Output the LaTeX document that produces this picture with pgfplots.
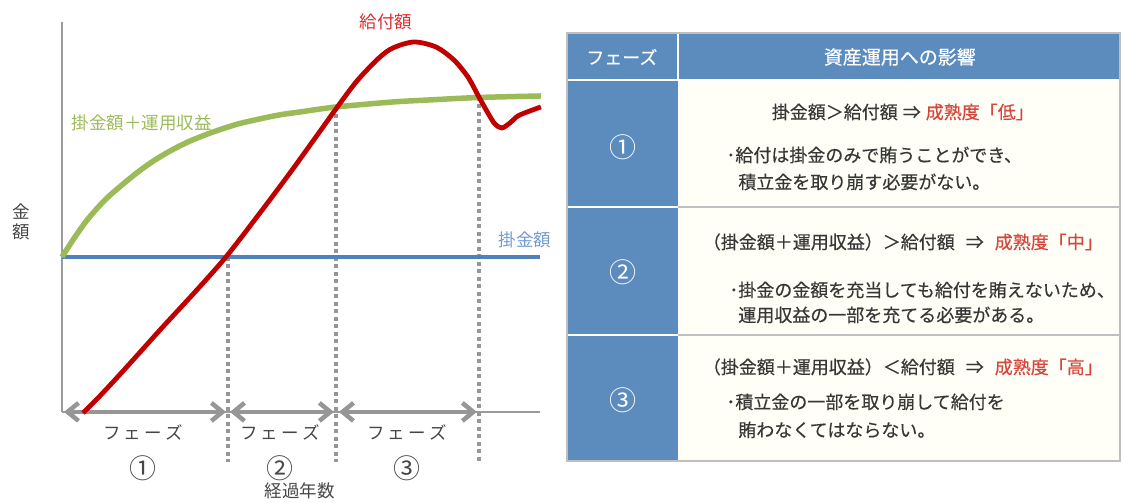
\documentclass[border=0pt]{standalone}
\usepackage{fontspec}
\setmainfont{Noto Sans CJK JP}
\newfontfamily\heavy{Noto Sans CJK JP}[FakeBold=0.35]
\usepackage{pgfplots}
\pgfplotsset{compat=1.18}
\usetikzlibrary{arrows.meta}

\definecolor{benefit}{RGB}{192,0,0}
\definecolor{benefitlbl}{RGB}{220,45,45}
\definecolor{contrib}{RGB}{79,129,189}
\definecolor{contriblbl}{RGB}{110,155,210}
\definecolor{fund}{RGB}{155,187,89}
\definecolor{guide}{RGB}{150,150,150}
\definecolor{axisgray}{RGB}{155,155,155}
\definecolor{ink}{RGB}{55,55,55}
\definecolor{chartink}{RGB}{70,70,70}
\definecolor{hdrblue}{RGB}{92,139,190}
\definecolor{cellbg}{RGB}{255,255,247}
\definecolor{cellline}{RGB}{191,191,191}
\definecolor{accent}{RGB}{212,70,62}

\newcommand\lbl{\fontsize{17.5}{21}\selectfont}
\newcommand\tfont{\heavy\fontsize{18}{22}\selectfont}
\newcommand\cnum{\fontsize{27}{30}\selectfont}
\newcommand\phase{フ\hspace{3.2pt}ェ\hspace{3.2pt}ー\hspace{3.2pt}ズ}
\tikzset{span/.style={guide, line width=4.5pt,
  {Straight Barb[length=11pt,width=18pt]}-{Straight Barb[length=11pt,width=18pt]}}}

\begin{document}
\begin{tikzpicture}
\begin{axis}[
  width=1121pt, height=502pt, scale only axis,
  xmin=0, xmax=1121, ymin=0, ymax=502,
  hide axis, clip=false]
\path (0,0) rectangle (1121,502);

% ---------- chart: axes ----------
\addplot[axisgray, line width=1.5pt] coordinates {(62,480) (62,90)};
\addplot[axisgray, line width=1.5pt] coordinates {(62,90) (540,90)};

% phase boundaries
\addplot[guide, line width=4pt, dash pattern=on 4pt off 3.5pt] coordinates {(228,245) (228,40)};
\addplot[guide, line width=4pt, dash pattern=on 4pt off 3.5pt] coordinates {(336,395) (336,40)};
\addplot[guide, line width=4pt, dash pattern=on 4pt off 3.5pt] coordinates {(479,405) (479,40)};

% phase spans
\draw[span] (64,90) -- (226,90);
\draw[span] (230,90) -- (334,90);
\draw[span] (339,90) -- (477,90);

% contributions (flat)
\addplot[contrib, line width=4.5pt] coordinates {(62,245) (540,245)};

% contributions + investment income
\addplot[fund, line width=5.5pt, smooth] coordinates {
  (62,245) (75,265) (88,283) (105,302) (122,317) (138,330) (155,342)
  (172,352) (188,360) (205,367) (222,373) (238,378) (255,382)
  (279,387) (300,390) (336,395) (393,400) (429,402) (479,404.5) (541,406)};

% benefit payments
\addplot[benefit, line width=4.8pt, smooth] coordinates {
  (83,89) (100,106) (125,133) (161,173) (196,211) (226,245) (260,289)
  (290,329) (321,372) (336,393) (357,421) (379,444) (393,454)
  (414,460) (436,455) (454,442) (468,425) (479,405) (488,389)
  (495,378) (502,374) (510,379) (518,386) (530,391) (541,395)};

% ---------- chart: labels ----------
\node[benefitlbl, font=\lbl] at (386,480) {給付額};
\node[fund, font=\lbl] at (142,379) {掛金額＋運用収益};
\node[contriblbl, font=\lbl] at (525,262) {掛金額};
\node[chartink, font=\lbl] at (21,290) {金};
\node[chartink, font=\lbl] at (21,270) {額};
\node[chartink, font=\lbl] at (143,69) {\phase};
\node[chartink, font=\lbl] at (280,69) {\phase};
\node[chartink, font=\lbl] at (407,69) {\phase};
\node[chartink, font=\cnum] at (143,34) {①};
\node[chartink, font=\cnum] at (280,34) {②};
\node[chartink, font=\cnum] at (407,34) {③};
\node[chartink, font=\lbl] at (300,11) {経過年数};

% ---------- table ----------
\fill[hdrblue] (567,41) rectangle (678,469);
\fill[hdrblue] (678,422) rectangle (1120,469);
\fill[cellbg] (678,41) rectangle (1120,422);
\draw[white, line width=2pt] (567,422) -- (1120,422);
\draw[white, line width=2pt] (678,422) -- (678,469);
\draw[white, line width=2pt] (567,295) -- (678,295);
\draw[white, line width=2pt] (567,167) -- (678,167);
\draw[cellline, line width=2pt] (678,295) -- (1120,295);
\draw[cellline, line width=2pt] (678,167) -- (1120,167);
\draw[cellline, line width=2.5pt] (567,41) rectangle (1120,469);

\node[white, font=\tfont] at (622,445) {フェーズ};
\node[white, font=\heavy\fontsize{19}{22}\selectfont] at (900,445) {資産運用への影響};

\node[white, font=\cnum] at (623,355) {①};
\node[white, font=\cnum] at (623,230) {②};
\node[white, font=\cnum] at (623,102) {③};

\node[ink, font=\tfont] at (903,390) {掛金額＞給付額\hspace{5pt}⇒\hspace{5pt}\textcolor{accent}{成熟度「低」}};
\node[ink, font=\tfont, anchor=west] at (723,347) {･給付は掛金のみで賄うことができ、};
\node[ink, font=\tfont, anchor=west] at (735,320) {積立金を取り崩す必要がない。};

\node[ink, font=\tfont] at (903,260) {（掛金額＋運用収益）＞給付額\hspace{11pt}⇒\hspace{11pt}\textcolor{accent}{成熟度「中」}};
\node[ink, font=\tfont, anchor=west] at (726,212) {･掛金の金額を充当しても給付を賄えないため、};
\node[ink, font=\tfont, anchor=west] at (735,187) {運用収益の一部を充てる必要がある。};

\node[ink, font=\tfont] at (903,135) {（掛金額＋運用収益）＜給付額\hspace{11pt}⇒\hspace{11pt}\textcolor{accent}{成熟度「高」}};
\node[ink, font=\tfont, anchor=west] at (723,100) {･積立金の一部を取り崩して給付を};
\node[ink, font=\tfont, anchor=west] at (735,72) {賄わなくてはならない。};
\end{axis}
\end{tikzpicture}
\end{document}
